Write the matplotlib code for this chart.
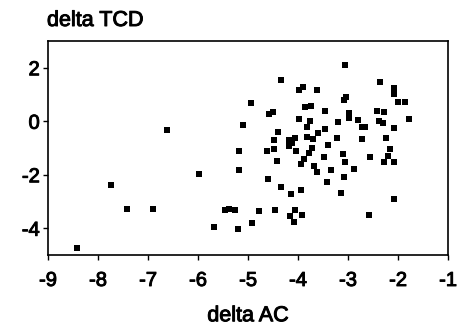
import numpy as np
import matplotlib
matplotlib.use('Agg')
import matplotlib.pyplot as plt
import matplotlib.patheffects as pe

plt.rcParams['font.family'] = ['Liberation Sans', 'DejaVu Sans']
plt.rcParams['axes.unicode_minus'] = False

# values
delta_ac = [-8.43, -7.75, -7.42, -6.91, -6.62, -5.99, -5.68, -5.46, -5.38,
            -5.19, -5.19, -4.63, -4.48, -4.43, -4.19, -4.04, -3.95, -3.89, -3.79,
            -3.73, -3.69, -3.63, -4.61, -4.35, -4.15, -3.94, -5.26, -4.79, -4.46,
            -4.16, -4.06, -4.08, -3.93, -4.92, -5.21,
            -3.41, -3.49, -3.11, -3.07, -2.89, -3.34, -3.09, -3.43, -3.14, -2.56,
            -2.16, -2.21, -2.29, -2.08, -2.09, -2.58,
            -4.35, -3.99, -3.91, -3.63, -4.95, -4.59, -4.51, -3.86, -3.75, -5.10,
            -3.98, -3.76, -3.82, -3.61, -4.41, -4.49, -4.19, -4.13, -4.06, -3.83,
            -3.71,
            -3.07, -2.36, -2.08, -2.08, -2.00, -1.87, -3.08, -3.04, -3.47, -2.98,
            -2.99, -3.21, -3.46, -2.81, -2.73, -2.66, -2.43, -2.29, -2.39, -2.31,
            -2.08, -1.79, -3.23, -2.73, -2.25]
delta_tcd = [-4.73, -2.37, -3.29, -3.29, -0.32, -1.98, -3.95, -3.32, -3.29,
             -1.11, -1.82, -1.11, -1.05, -1.49, -0.93, -1.10, -1.61, -1.41, -1.20,
             -1.01, -1.66, -1.89, -2.17, -2.45, -2.73, -2.56, -3.33, -3.36, -3.32,
             -3.54, -3.32, -3.78, -3.50, -3.80, -4.03,
             -0.88, -1.35, -1.22, -1.51, -1.79, -1.82, -2.07, -2.28, -2.67, -1.35,
             -1.05, -1.29, -1.54, -1.51, -2.92, -3.50,
             1.55, 1.17, 1.29, 1.17, 0.69, 0.28, 0.33, 0.53, 0.57, -0.15,
             0.10, 0.02, -0.23, -0.45, -0.41, -0.70, -0.70, -0.82, -0.64, -0.58,
             -0.68,
             2.10, 1.48, 1.23, 1.01, 0.72, 0.72, 0.80, 0.90, 0.38, 0.29,
             0.11, -0.03, -0.28, 0.05, -0.23, -0.23, 0.38, 0.33, 0.01, -0.05,
             -0.26, 0.07, -0.64, -0.68, -0.64]

x_ticks = [-9, -8, -7, -6, -5, -4, -3, -2, -1]
y_ticks = [-4, -2, 0, 2]

heavy = [pe.withStroke(linewidth=0.7, foreground='black')]

fig = plt.figure(figsize=(4.58, 3.27), dpi=100)
ax = fig.add_axes([48/458, 1 - 255/327, 400/458, 214/327])

ax.scatter(delta_ac, delta_tcd, marker='s', s=14, c='black', linewidths=0)

ax.set_xlim(-9, -1)
ax.set_ylim(-5, 3)
ax.set_xticks(x_ticks)
ax.set_yticks(y_ticks)
ax.tick_params(direction='out', length=3.5, width=1, labelsize=14.5, colors='black')
ax.tick_params(axis='x', pad=8)
ax.tick_params(axis='y', pad=2.5)
for lab in ax.get_xticklabels() + ax.get_yticklabels():
    lab.set_path_effects(heavy)
for s in ax.spines.values():
    s.set_linewidth(1.2)

ax.set_xlabel('delta AC', fontsize=15.5, labelpad=11, path_effects=heavy)
fig.text(47/458, 1 - 26/327, 'delta TCD', fontsize=15.5, ha='left', va='baseline',
         path_effects=heavy)

fig.savefig('out.png', dpi=100)
